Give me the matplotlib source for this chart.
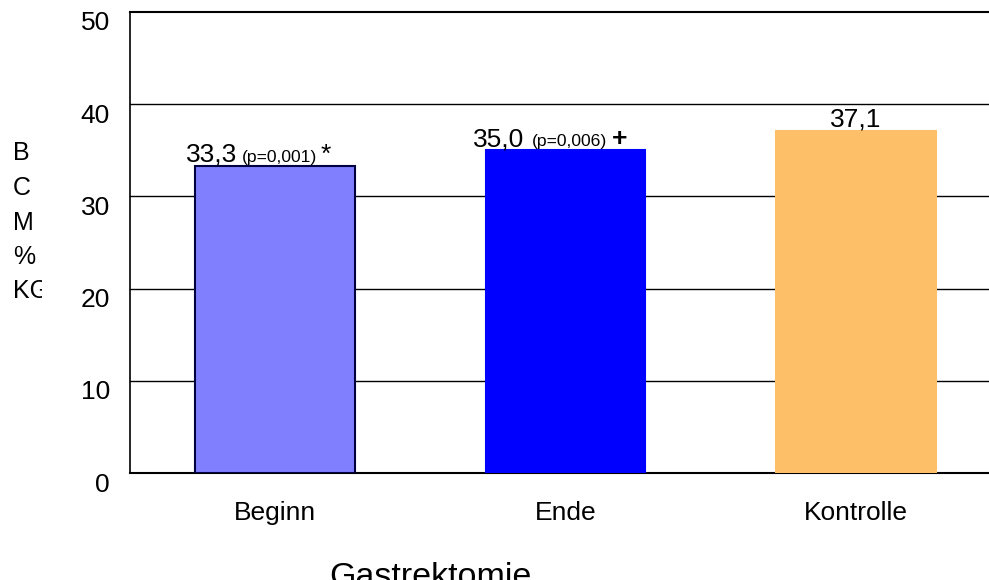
import matplotlib.pyplot as plt
from matplotlib.transforms import ScaledTranslation, Bbox

plt.rcParams["font.family"] = ["Liberation Sans", "DejaVu Sans"]

# -----------------------
# Data
# -----------------------
groups = ["Beginn", "Ende", "Kontrolle"]
bcm = [33.3, 35.0, 37.1]
value_labels = ["33,3", "35,0", "37,1"]
p_labels = ["(p=0,001)", "(p=0,006)", ""]
marks = ["*", "+", ""]
yticks = [0, 10, 20, 30, 40, 50]
ylabel_letters = ["B", "C", "M", "%", "KG"]
xlabel = "Gastrektomie"

colors = ["#8080FF", "#0000FF", "#FEBF69"]
edges = ["#000040", "#0000FF", "#FEBF69"]

# -----------------------
# Figure
# -----------------------
W, H = 989, 580
fig = plt.figure(figsize=(W / 100, H / 100), dpi=100)
ax = fig.add_axes([130 / W, (H - 473) / H, 1 - 130 / W, (473 - 12) / H])

x = list(range(len(groups)))
ax.bar(x, bcm, width=0.55, color=colors, edgecolor=edges, linewidth=1.5, zorder=3)

ax.set_xlim(-0.5, 2.458)
ax.set_ylim(0, 50)

# horizontal lines at each tick
for t in yticks[1:]:
    ax.axhline(t, color="black", lw=1.5 if t == 50 else 1.0, zorder=1, clip_on=False)

for s in ["top", "right"]:
    ax.spines[s].set_visible(False)
ax.spines["left"].set_linewidth(1.2)
ax.spines["bottom"].set_linewidth(1.5)

ax.set_yticks(yticks)
ax.set_yticklabels([str(t) for t in yticks])
ax.set_xticks(x)
ax.set_xticklabels(groups)
ax.tick_params(axis="y", length=0, pad=14.5, labelsize=19)
ax.tick_params(axis="x", length=0, pad=20.5, labelsize=19)

# nudge y tick labels slightly below their lines
shift = ScaledTranslation(0, -9 / 100, fig.dpi_scale_trans)
for lbl in ax.get_yticklabels():
    lbl.set_transform(lbl.get_transform() + shift)

# value labels above bars
offsets = [(-89, -33, 45), (-93, -34, 46), (None, None, None)]
for i, v in enumerate(bcm):
    o_val, o_p, o_m = offsets[i]
    if o_val is None:
        ax.annotate(value_labels[i], (i, v), xytext=(0, 4), textcoords="offset pixels",
                    ha="center", va="baseline", fontsize=19)
        continue
    ax.annotate(value_labels[i], (i, v), xytext=(o_val, 4), textcoords="offset pixels",
                ha="left", va="baseline", fontsize=19)
    ax.annotate(p_labels[i], (i, v), xytext=(o_p, 4), textcoords="offset pixels",
                ha="left", va="baseline", fontsize=12.6)
    ax.annotate(marks[i], (i, v), xytext=(o_m, 4), textcoords="offset pixels",
                ha="left", va="baseline", fontsize=19,
                fontweight="bold" if marks[i] == "+" else "normal")

# stacked y label letters
letter_y = [153, 188, 223, 257, 291]
for letter, yy in zip(ylabel_letters, letter_y):
    t = fig.text(13 / W, 1 - yy / H, letter, ha="left", va="center", fontsize=18)
    if letter == "KG":
        t.set_clip_box(Bbox.from_extents(0, 0, 42, H))
        t.set_clip_on(True)

fig.text(430 / W, -6 / H, xlabel, ha="center", va="baseline", fontsize=24.5)

fig.savefig("out.png", dpi=100)
